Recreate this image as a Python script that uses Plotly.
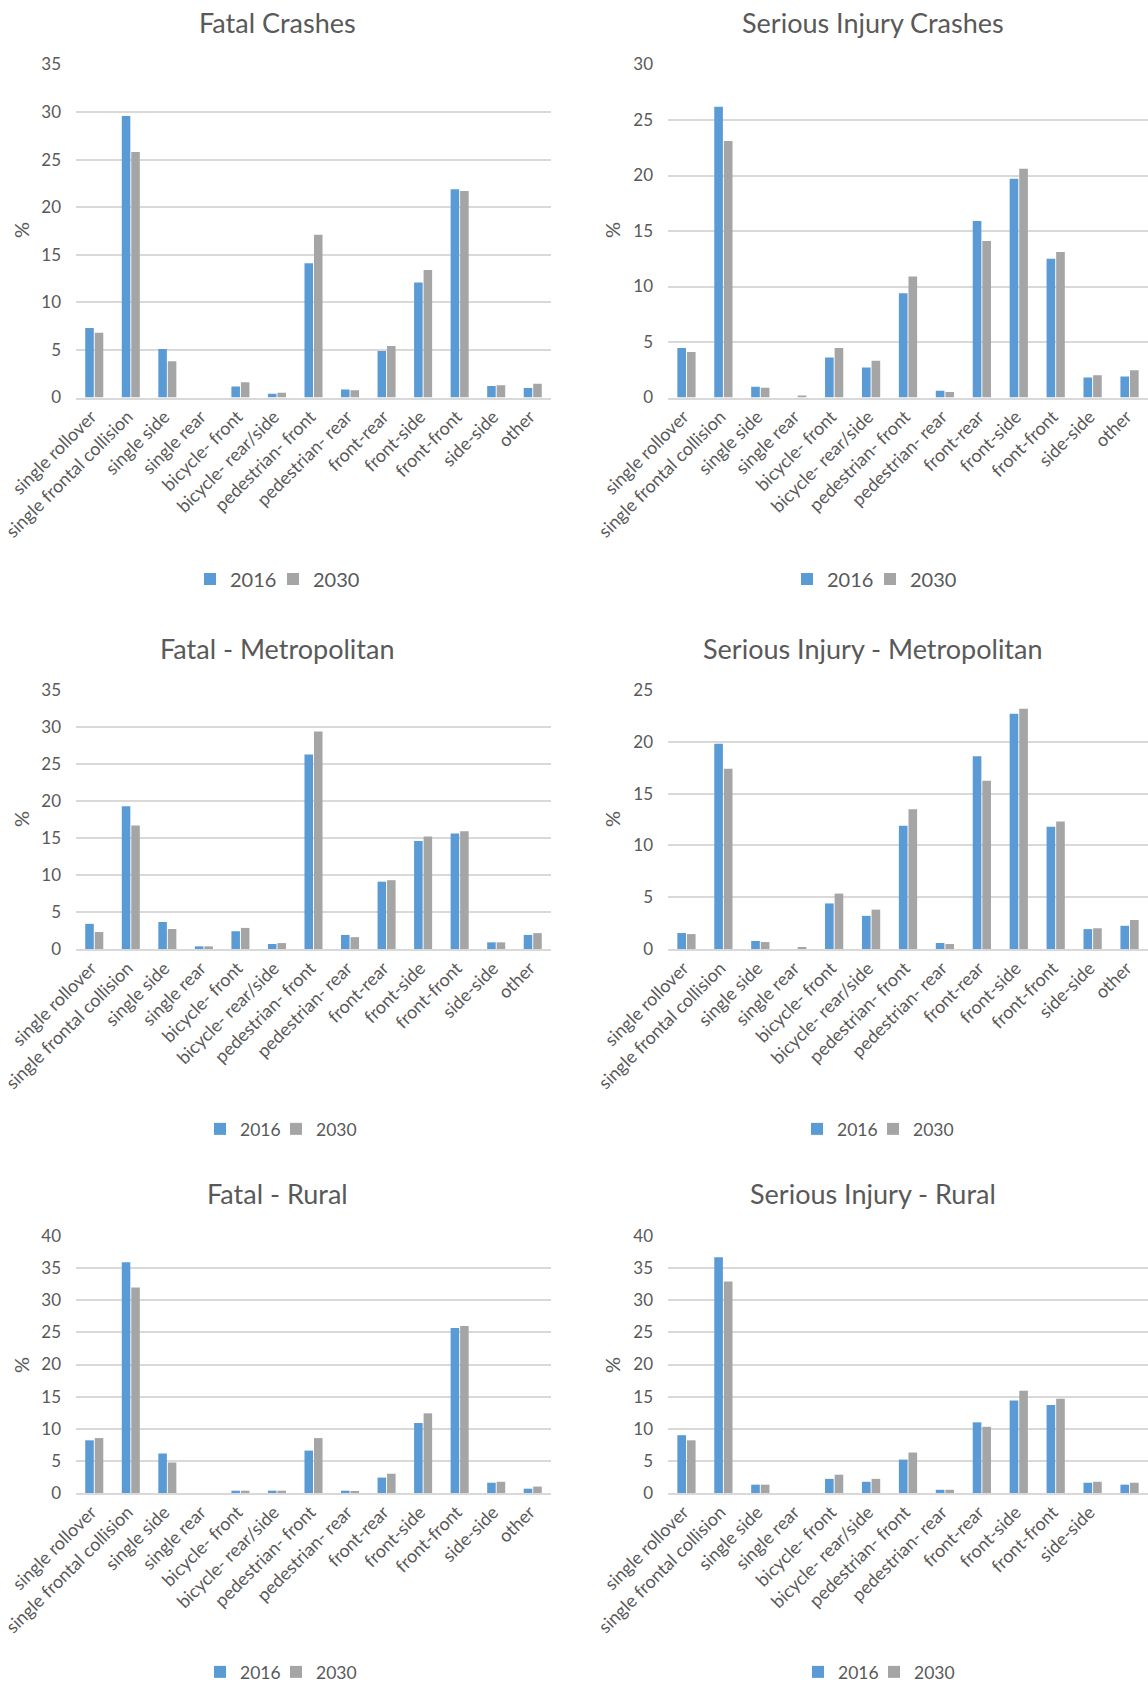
import plotly.graph_objects as go

# Crash configuration categories (shared by all six panels)
categories = [
    "single rollover", "single frontal collision", "single side", "single rear",
    "bicycle- front", "bicycle- rear/side", "pedestrian- front", "pedestrian- rear",
    "front-rear", "front-side", "front-front", "side-side", "other",
]
years = ["2016", "2030"]

# Share of crashes (%) per configuration
fatal_2016 = [7.3, 29.6, 5.1, 0.0, 1.16, 0.4, 14.1, 0.85, 4.9, 12.1, 21.9, 1.2, 1.0]
fatal_2030 = [6.8, 25.8, 3.8, 0.0, 1.6, 0.5, 17.1, 0.75, 5.4, 13.4, 21.7, 1.3, 1.45]

serious_2016 = [4.45, 26.2, 0.96, 0.0, 3.6, 2.7, 9.4, 0.6, 15.9, 19.7, 12.5, 1.8, 1.9]
serious_2030 = [4.1, 23.1, 0.87, 0.15, 4.45, 3.3, 10.9, 0.5, 14.1, 20.6, 13.1, 2.0, 2.45]

fatal_metro_2016 = [3.4, 19.3, 3.65, 0.36, 2.4, 0.68, 26.3, 1.9, 9.1, 14.6, 15.6, 0.9, 1.9]
fatal_metro_2030 = [2.3, 16.7, 2.7, 0.36, 2.85, 0.8, 29.4, 1.6, 9.3, 15.2, 15.9, 0.9, 2.15]

serious_metro_2016 = [1.54, 19.8, 0.77, 0.0, 4.4, 3.2, 11.9, 0.58, 18.6, 22.7, 11.8, 1.92, 2.24]
serious_metro_2030 = [1.44, 17.4, 0.67, 0.19, 5.35, 3.8, 13.5, 0.48, 16.25, 23.2, 12.3, 2.0, 2.8]

fatal_rural_2016 = [8.2, 35.9, 6.15, 0.0, 0.36, 0.36, 6.6, 0.36, 2.4, 10.9, 25.7, 1.6, 0.67]
fatal_rural_2030 = [8.55, 32.0, 4.75, 0.0, 0.36, 0.36, 8.55, 0.2, 3.0, 12.4, 26.0, 1.75, 1.0]

serious_rural_2016 = [9.0, 36.7, 1.3, 0.0, 2.2, 1.75, 5.2, 0.5, 11.0, 14.4, 13.7, 1.6, 1.3]
serious_rural_2030 = [8.2, 32.9, 1.3, 0.0, 2.85, 2.2, 6.3, 0.5, 10.3, 15.9, 14.65, 1.75, 1.6]

W, H = 1148, 1682
BLUE = "#5B9BD5"
GREY = "#A5A5A5"
TEXT = "#595959"
GRID = "#D9D9D9"
FONT = "Lato, 'Open Sans', sans-serif"


def fx(px):
    return px / W


def fy(px):
    return 1 - px / H


# panel geometry in pixels
LEFT = (76, 551)
RIGHT = (668, 1148)
rows = [
    dict(top=64.5, bottom=397.5, title_y=22, legend_y=579, legend_size=20,
         legend_x=(190, 787), entry=38, pct_y=230),
    dict(top=690, bottom=949, title_y=648, legend_y=1129, legend_size=17.5,
         legend_x=(200, 797), entry=31, pct_y=819),
    dict(top=1236, bottom=1493, title_y=1193, legend_y=1672, legend_size=17.5,
         legend_x=(200, 798), entry=31, pct_y=1365),
]

panels = [
    ("Fatal Crashes", fatal_2016, fatal_2030, 35, 0, 0),
    ("Serious Injury Crashes", serious_2016, serious_2030, 30, 0, 1),
    ("Fatal - Metropolitan", fatal_metro_2016, fatal_metro_2030, 35, 1, 0),
    ("Serious Injury - Metropolitan", serious_metro_2016, serious_metro_2030, 25, 1, 1),
    ("Fatal - Rural", fatal_rural_2016, fatal_rural_2030, 40, 2, 0),
    ("Serious Injury - Rural", serious_rural_2016, serious_rural_2030, 40, 2, 1),
]

fig = go.Figure()
annotations = []
layout = {}

for i, (title, v2016, v2030, ymax, r, c) in enumerate(panels, start=1):
    row = rows[r]
    x0, x1 = LEFT if c == 0 else RIGHT
    sfx = "" if i == 1 else str(i)
    leg = "legend" + sfx

    # first legend entry gets a fixed width so the second sits close to it
    for name, vals, col, lw in ((years[0], v2016, BLUE, row["entry"]),
                                (years[1], v2030, GREY, None)):
        fig.add_trace(go.Bar(
            x=categories, y=vals, name=name,
            marker=dict(color=col, line=dict(width=0)),
            xaxis="x" + sfx, yaxis="y" + sfx, legend=leg,
            legendwidth=lw,
        ))

    # the last label of the bottom-right panel runs past the chart edge
    shown = categories[:-1] if (r == 2 and c == 1) else categories

    layout["xaxis" + sfx] = dict(
        domain=[fx(x0), fx(x1)], anchor="y" + sfx,
        type="category", categoryorder="array", categoryarray=categories,
        range=[-0.5, 12.5], automargin=False,
        tickmode="array", tickvals=shown, ticktext=shown,
        tickangle=-45, showgrid=False, zeroline=False,
        showline=True, linecolor=GRID, linewidth=1.5,
        ticks="", ticklabelstandoff=0, ticklabelshift=-3,
        tickfont=dict(family=FONT, size=18, color=TEXT),
        fixedrange=True,
    )
    layout["yaxis" + sfx] = dict(
        domain=[fy(row["bottom"]), fy(row["top"])], anchor="x" + sfx,
        range=[0, ymax], tick0=0, dtick=5, automargin=False,
        showgrid=True, gridcolor=GRID, gridwidth=1.5,
        zeroline=False, showline=False, ticks="",
        ticklabelstandoff=14,
        tickfont=dict(family=FONT, size=17, color=TEXT),
        fixedrange=True,
    )
    layout[leg] = dict(
        orientation="h", x=fx(row["legend_x"][c]), y=fy(row["legend_y"]),
        xanchor="left", yanchor="middle",
        font=dict(family=FONT, size=row["legend_size"], color=TEXT),
        bgcolor="rgba(0,0,0,0)", traceorder="normal",
    )

    annotations.append(dict(
        text=title, x=fx(277 if c == 0 else 873), y=fy(row["title_y"]),
        xref="paper", yref="paper", showarrow=False,
        xanchor="center", yanchor="middle",
        font=dict(family=FONT, size=27, color=TEXT),
    ))
    annotations.append(dict(
        text="%", x=fx(21 if c == 0 else 612), y=fy(row["pct_y"]),
        xref="paper", yref="paper", showarrow=False, textangle=-90,
        xanchor="center", yanchor="middle",
        font=dict(family=FONT, size=20, color=TEXT),
    ))

fig.update_layout(
    template="none",
    width=W, height=H,
    margin=dict(l=0, r=0, t=0, b=0, pad=0, autoexpand=False),
    paper_bgcolor="white", plot_bgcolor="white",
    barmode="group", bargap=0.48, bargroupgap=0.1,
    annotations=annotations,
    **layout,
)

fig.write_html("out.html")
